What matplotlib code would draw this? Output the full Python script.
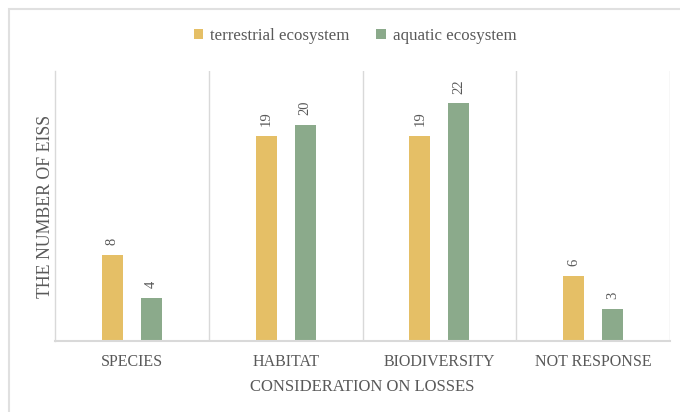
import matplotlib
matplotlib.use("Agg")
import matplotlib.pyplot as plt
import numpy as np
from matplotlib.patches import Rectangle

categories = ["SPECIES", "HABITAT", "BIODIVERSITY", "NOT RESPONSE"]
series_names = ["terrestrial ecosystem", "aquatic ecosystem"]
terrestrial = [8, 19, 19, 6]
aquatic = [4, 20, 22, 3]

col_t = "#E5BF66"
col_a = "#8BAA8B"
txt = "#595959"
grid_c = "#D9D9D9"

plt.rcParams['font.family'] = ['Liberation Serif', 'DejaVu Serif']

fig = plt.figure(figsize=(6.8, 4.12), dpi=100)
ax = fig.add_axes([55/680, 71/412, 615/680, 270/412])

x = np.arange(len(categories))
w = 0.137
off = 0.127
b1 = ax.bar(x - off, terrestrial, w, color=col_t, label=series_names[0])
b2 = ax.bar(x + off, aquatic, w, color=col_a, label=series_names[1])

for bars, vals in ((b1, terrestrial), (b2, aquatic)):
    for r, v in zip(bars, vals):
        ax.annotate(str(v), (r.get_x() + r.get_width()/2, v), xytext=(0, 7),
                    textcoords="offset points", rotation=90, ha="center", va="bottom",
                    fontsize=10.5, color=txt)

ax.set_xlim(-0.5, len(categories) - 0.5)
ax.set_ylim(0, 25)
for s in ["top", "right"]:
    ax.spines[s].set_visible(False)
ax.spines["left"].set_color(grid_c)
ax.spines["bottom"].set_color(grid_c)
ax.spines["left"].set_linewidth(1.0)
ax.spines["bottom"].set_linewidth(1.5)
for i in range(1, len(categories) + 1):
    ax.axvline(i - 0.5, color=grid_c, lw=1.0, zorder=0)

ax.set_yticks([])
ax.set_xticks(x)
ax.set_xticklabels(categories, fontsize=11.5, color=txt)
ax.tick_params(axis="x", length=0, pad=9)
ax.set_xlabel("CONSIDERATION ON LOSSES", fontsize=12, color=txt, labelpad=7)
ax.set_ylabel("THE NUMBER OF EISS", fontsize=12.8, color=txt, labelpad=1)

fig.legend(handles=[b1, b2], labels=series_names, loc="center", bbox_to_anchor=(355/680, 1 - 36/412),
           ncol=2, frameon=False, fontsize=12.2, labelcolor=txt, handlelength=0.55, handleheight=0.55,
           handletextpad=0.4, columnspacing=1.6)

fig.patches.append(Rectangle((9/680, -0.1), 1.2, 1 - 8.5/412 + 0.1, transform=fig.transFigure,
                             fill=False, edgecolor="#E0E0E0", lw=1.5))

fig.savefig("out.png", dpi=100)
